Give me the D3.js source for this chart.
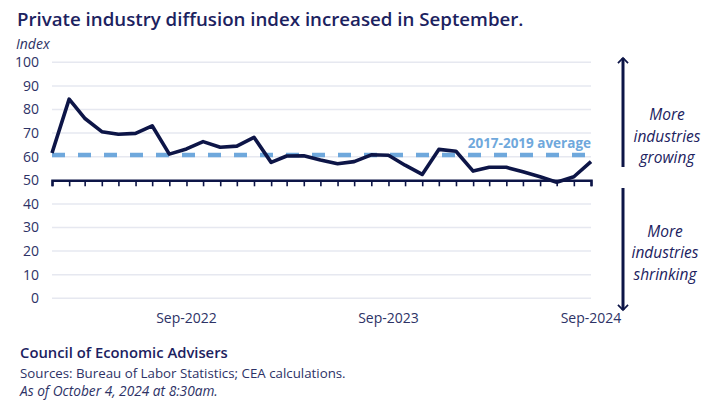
<!DOCTYPE html>
<html>
<head>
<meta charset="utf-8">
<script src="https://cdn.jsdelivr.net/npm/d3@7"></script>
<style>
  html, body { margin: 0; padding: 0; background: #fff; }
  svg { display: block; font-family: "Open Sans", "Noto Sans", sans-serif; }
</style>
</head>
<body>
<svg id="chart" width="722" height="409"></svg>
<script>
// ---- data ----
const months = [
  "2022-01","2022-02","2022-03","2022-04","2022-05","2022-06","2022-07","2022-08","2022-09","2022-10","2022-11","2022-12",
  "2023-01","2023-02","2023-03","2023-04","2023-05","2023-06","2023-07","2023-08","2023-09","2023-10","2023-11","2023-12",
  "2024-01","2024-02","2024-03","2024-04","2024-05","2024-06","2024-07","2024-08","2024-09"
];
const diffusionIndex = [
  61.6, 84.4, 76.3, 70.6, 69.5, 69.9, 73.1, 61.1, 63.3, 66.4, 64.0, 64.5,
  68.2, 57.6, 60.3, 60.4, 58.6, 57.0, 57.9, 60.8, 60.6, 56.4, 52.5, 63.1,
  62.3, 53.9, 55.5, 55.5, 53.6, 51.5, 49.2, 51.5, 57.9
];
const averageValue = [60.7];
const yTicks = [0, 10, 20, 30, 40, 50, 60, 70, 80, 90, 100];
const xTickLabels = ["2022-09", "2023-09", "2024-09"];
const xTickText = ["Sep-2022", "Sep-2023", "Sep-2024"];

const navy = "#0d1547";
const textNavy = "#1c2260";
const lightBlue = "#6fa8dc";

const svg = d3.select("#chart");
const parse = d3.timeParse("%Y-%m");
const dates = months.map(parse);

const x = d3.scaleTime().domain(d3.extent(dates)).range([52, 591]);
const y = d3.scaleLinear().domain([0, 100]).range([298.3, 62.3]);

// gridlines
svg.append("g").selectAll("line").data(yTicks.filter(d => d !== 50)).join("line")
  .attr("x1", 52).attr("x2", 591)
  .attr("y1", d => y(d)).attr("y2", d => y(d))
  .attr("stroke", "#e6e8f0").attr("stroke-width", 1.5);

// y labels
svg.append("g").selectAll("text").data(yTicks).join("text")
  .attr("x", 39).attr("y", d => y(d)).attr("dy", "0.35em")
  .attr("text-anchor", "end").attr("font-size", 14).attr("fill", "#2d3266")
  .text(d => d);

// average dashed line
svg.append("line")
  .attr("x1", 52).attr("x2", 591)
  .attr("y1", y(averageValue[0])).attr("y2", y(averageValue[0]))
  .attr("stroke", lightBlue).attr("stroke-width", 4.5)
  .attr("stroke-dasharray", "13,13");

svg.append("text")
  .attr("x", 591).attr("y", y(averageValue[0]) - 12).attr("dy", "0.35em")
  .attr("text-anchor", "end").attr("font-size", 13.5).attr("font-weight", 700)
  .attr("fill", lightBlue).text("2017-2019 average");

// x axis at 50 with monthly ticks
const xAxis = d3.axisBottom(x).tickValues(dates).tickSize(6).tickFormat("");
const gx = svg.append("g").attr("transform", `translate(0,${y(50)})`).call(xAxis);
gx.select(".domain").attr("stroke", navy).attr("stroke-width", 2.5);
gx.selectAll(".tick line").attr("stroke", navy).attr("stroke-width", 1.6);

// x labels
svg.append("g").selectAll("text").data(xTickLabels).join("text")
  .attr("x", d => x(parse(d))).attr("y", 318).attr("dy", "0.35em")
  .attr("text-anchor", "middle").attr("font-size", 14).attr("fill", "#2d3266")
  .text((d, i) => xTickText[i]);

// line
const line = d3.line().x((d, i) => x(dates[i])).y(d => y(d));
svg.append("path").datum(diffusionIndex)
  .attr("d", line).attr("fill", "none")
  .attr("stroke", navy).attr("stroke-width", 3.6)
  .attr("stroke-linejoin", "round");

// arrows
const defs = svg.append("defs");
defs.append("marker").attr("id", "ah").attr("viewBox", "0 0 10 10")
  .attr("refX", 5).attr("refY", 5).attr("markerWidth", 4.2).attr("markerHeight", 4.2)
  .attr("orient", "auto-start-reverse").attr("markerUnits", "strokeWidth")
  .append("path").attr("d", "M1,1 L5,5 L1,9").attr("fill", "none")
  .attr("stroke", navy).attr("stroke-width", 1.4);

svg.append("line").attr("x1", 623).attr("x2", 623).attr("y1", 167).attr("y2", 58)
  .attr("stroke", navy).attr("stroke-width", 3).attr("marker-end", "url(#ah)");
svg.append("line").attr("x1", 623).attr("x2", 623).attr("y1", 188).attr("y2", 310)
  .attr("stroke", navy).attr("stroke-width", 3).attr("marker-end", "url(#ah)");

const growing = ["More", "industries", "growing"];
const shrinking = ["More", "industries", "shrinking"];
svg.append("g").selectAll("text").data(growing).join("text")
  .attr("x", 667).attr("y", (d, i) => 115 + i * 21.5).attr("dy", "0.35em")
  .attr("text-anchor", "middle").attr("font-size", 15.5).attr("font-style", "italic")
  .attr("fill", textNavy).text(d => d);
svg.append("g").selectAll("text").data(shrinking).join("text")
  .attr("x", 665).attr("y", (d, i) => 231.5 + i * 21.5).attr("dy", "0.35em")
  .attr("text-anchor", "middle").attr("font-size", 15.5).attr("font-style", "italic")
  .attr("fill", textNavy).text(d => d);

// title
svg.append("text").attr("x", 17).attr("y", 26)
  .attr("font-size", 18.7).attr("font-weight", 600).attr("fill", textNavy)
  .text("Private industry diffusion index increased in September.");
svg.append("text").attr("x", 16).attr("y", 49)
  .attr("font-size", 14).attr("font-style", "italic").attr("fill", "#2d3266")
  .text("Index");

// footer
svg.append("text").attr("x", 20).attr("y", 358)
  .attr("font-size", 14.8).attr("font-weight", 600).attr("fill", textNavy)
  .text("Council of Economic Advisers");
svg.append("text").attr("x", 20).attr("y", 378)
  .attr("font-size", 13.3).attr("fill", "#2d3266")
  .text("Sources: Bureau of Labor Statistics; CEA calculations.");
svg.append("text").attr("x", 20).attr("y", 396)
  .attr("font-size", 13.7).attr("font-style", "italic").attr("fill", "#2d3266")
  .text("As of October 4, 2024 at 8:30am.");
</script>
</body>
</html>
